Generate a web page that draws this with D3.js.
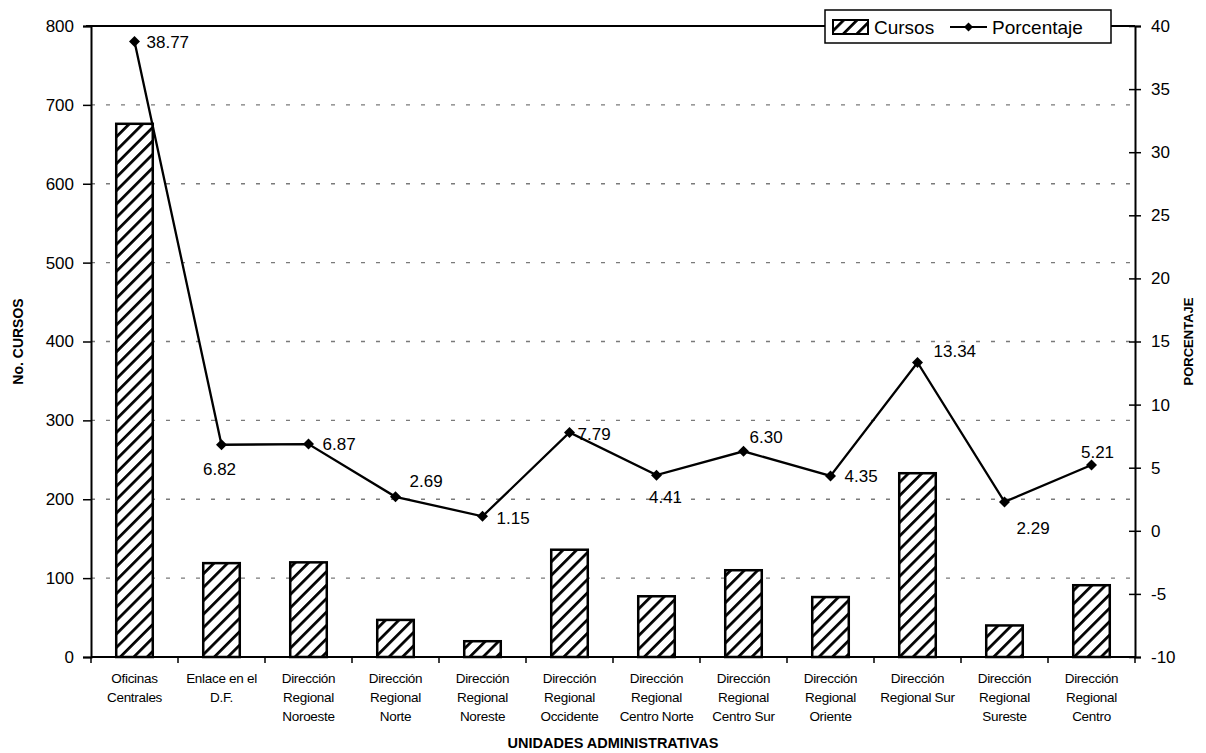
<!DOCTYPE html>
<html>
<head>
<meta charset="utf-8">
<script src="https://cdn.jsdelivr.net/npm/d3@7"></script>
<style>
  body { margin: 0; background: #fff; }
  svg { font-family: "Liberation Sans", Arial, sans-serif; }
</style>
</head>
<body>
<div id="wrapper"></div>
<script>
// data
const unidades = [
  ["Oficinas", "Centrales"],
  ["Enlace en el", "D.F."],
  ["Dirección", "Regional", "Noroeste"],
  ["Dirección", "Regional", "Norte"],
  ["Dirección", "Regional", "Noreste"],
  ["Dirección", "Regional", "Occidente"],
  ["Dirección", "Regional", "Centro Norte"],
  ["Dirección", "Regional", "Centro Sur"],
  ["Dirección", "Regional", "Oriente"],
  ["Dirección", "Regional Sur"],
  ["Dirección", "Regional", "Sureste"],
  ["Dirección", "Regional", "Centro"]
];
const cursos = [676, 119, 120, 47, 20, 136, 77, 110, 76, 233, 40, 91];
const porcentaje = [38.77, 6.82, 6.87, 2.69, 1.15, 7.79, 4.41, 6.30, 4.35, 13.34, 2.29, 5.21];
// label offsets relative to the point [dx, dy, anchor]
const labelPos = [
  [12, 1, "start"], [-2, 24, "middle"], [14, 0, "start"], [14, -16, "start"],
  [14, 2, "start"], [8, 2, "start"], [9, 22, "middle"], [6, -14, "start"],
  [14, 0, "start"], [16, -11, "start"], [12, 26, "start"], [6, -13, "middle"]
];
const leftTicks = [0, 100, 200, 300, 400, 500, 600, 700, 800];
const rightTicks = [-10, -5, 0, 5, 10, 15, 20, 25, 30, 35, 40];

const dimensions = {
  width: 1206,
  height: 753,
  marginTop: 26,
  marginRight: 71,
  marginBottom: 96,
  marginLeft: 91
};
dimensions.boundedWidth = dimensions.width - dimensions.marginLeft - dimensions.marginRight;
dimensions.boundedHeight = dimensions.height - dimensions.marginTop - dimensions.marginBottom;

const wrapper = d3.select("#wrapper")
  .append("svg")
    .attr("width", dimensions.width)
    .attr("height", dimensions.height);

// diagonal hatch for the bars
const defs = wrapper.append("defs");
const pattern = defs.append("pattern")
    .attr("id", "hatch")
    .attr("patternUnits", "userSpaceOnUse")
    .attr("width", 9.5)
    .attr("height", 9.5)
    .attr("patternTransform", "rotate(45)");
pattern.append("rect").attr("width", 9.5).attr("height", 9.5).attr("fill", "#fff");
pattern.append("line")
    .attr("x1", 0).attr("y1", 0).attr("x2", 0).attr("y2", 9.5)
    .attr("stroke", "#000").attr("stroke-width", 5.5);

const bounds = wrapper.append("g")
    .attr("transform", `translate(${dimensions.marginLeft},${dimensions.marginTop})`);

const xScale = d3.scaleBand()
  .domain(d3.range(unidades.length))
  .range([0, dimensions.boundedWidth])
  .paddingInner(0.58)
  .paddingOuter(0.29);

const yScale = d3.scaleLinear()
  .domain([0, 800])
  .range([dimensions.boundedHeight, 0]);

const y2Scale = d3.scaleLinear()
  .domain([-10, 40])
  .range([dimensions.boundedHeight, 0]);

// gridlines
bounds.append("g")
  .selectAll("line")
  .data(leftTicks.filter(d => d > 0 && d < 800))
  .join("line")
    .attr("x1", 0)
    .attr("x2", dimensions.boundedWidth)
    .attr("y1", d => yScale(d))
    .attr("y2", d => yScale(d))
    .attr("stroke", "#7a7a7a")
    .attr("stroke-width", 1.4)
    .attr("stroke-dasharray", "4,11");

// bars
bounds.append("g")
  .selectAll("rect")
  .data(cursos)
  .join("rect")
    .attr("x", (d, i) => xScale(i))
    .attr("y", d => yScale(d))
    .attr("width", xScale.bandwidth())
    .attr("height", d => dimensions.boundedHeight - yScale(d))
    .attr("fill", "url(#hatch)")
    .attr("stroke", "#000")
    .attr("stroke-width", 2.5);

// axes
const xAxis = bounds.append("g")
  .attr("transform", `translate(0,${dimensions.boundedHeight})`);
xAxis.append("line")
  .attr("x1", 0).attr("x2", dimensions.boundedWidth)
  .attr("stroke", "#000").attr("stroke-width", 2);
xAxis.selectAll(".tick")
  .data(d3.range(unidades.length + 1))
  .join("line")
    .attr("x1", d => d * xScale.step())
    .attr("x2", d => d * xScale.step())
    .attr("y1", 0).attr("y2", 6)
    .attr("stroke", "#000").attr("stroke-width", 1.5);

const catLabels = xAxis.selectAll(".cat")
  .data(unidades)
  .join("text")
    .attr("class", "cat")
    .attr("text-anchor", "middle")
    .style("font-size", "13.5px")
    .style("letter-spacing", "-0.3px")
    .attr("transform", (d, i) => `translate(${xScale(i) + xScale.bandwidth() / 2},0)`);
catLabels.selectAll("tspan")
  .data(d => d)
  .join("tspan")
    .attr("x", 0)
    .attr("y", (d, i) => 26 + i * 19)
    .text(d => d);

const yAxisGenerator = d3.axisLeft(yScale).tickValues(leftTicks).tickSize(8).tickPadding(9);
const yAxis = bounds.append("g").call(yAxisGenerator);
yAxis.select(".domain").attr("stroke-width", 2);
yAxis.selectAll(".tick line").attr("stroke-width", 1.5);
yAxis.selectAll("text").style("font-size", "17px");

const y2AxisGenerator = d3.axisRight(y2Scale)
  .tickValues(rightTicks)
  .tickFormat(d => String(d))
  .tickSize(6)
  .tickPadding(10);
const y2Axis = bounds.append("g")
  .attr("transform", `translate(${dimensions.boundedWidth},0)`)
  .call(y2AxisGenerator);
y2Axis.select(".domain").attr("stroke-width", 2);
y2Axis.selectAll(".tick line").attr("x1", -6).attr("stroke-width", 1.5);
y2Axis.selectAll("text").style("font-size", "17px");

// top border
bounds.append("line")
  .attr("x1", -5).attr("x2", dimensions.boundedWidth)
  .attr("y1", 0).attr("y2", 0)
  .attr("stroke", "#000").attr("stroke-width", 2);

// percentage line
const cx = (d, i) => xScale(i) + xScale.bandwidth() / 2;
const lineGenerator = d3.line()
  .x(cx)
  .y(d => y2Scale(d));
bounds.append("path")
  .attr("d", lineGenerator(porcentaje))
  .attr("fill", "none")
  .attr("stroke", "#000")
  .attr("stroke-width", 2.3);

const marker = "M0,-5.5L5.5,0L0,5.5L-5.5,0Z";
bounds.append("g")
  .selectAll("path")
  .data(porcentaje)
  .join("path")
    .attr("d", marker)
    .attr("transform", (d, i) => `translate(${cx(d, i)},${y2Scale(d)})`)
    .attr("fill", "#000");

bounds.append("g")
  .selectAll("text")
  .data(porcentaje)
  .join("text")
    .attr("x", (d, i) => cx(d, i) + labelPos[i][0])
    .attr("y", (d, i) => y2Scale(d) + labelPos[i][1])
    .attr("dy", "0.35em")
    .attr("text-anchor", (d, i) => labelPos[i][2])
    .style("font-size", "17px")
    .text(d => d.toFixed(2));

// axis titles
wrapper.append("text")
  .attr("transform", `translate(23,${dimensions.marginTop + dimensions.boundedHeight / 2}) rotate(-90)`)
  .attr("text-anchor", "middle")
  .style("font-size", "14px")
  .style("font-weight", "bold")
  .text("No. CURSOS");

wrapper.append("text")
  .attr("transform", `translate(1193,${dimensions.marginTop + dimensions.boundedHeight / 2}) rotate(-90)`)
  .attr("text-anchor", "middle")
  .style("font-size", "13px")
  .style("font-weight", "bold")
  .text("PORCENTAJE");

wrapper.append("text")
  .attr("x", 613)
  .attr("y", 748)
  .attr("text-anchor", "middle")
  .style("font-size", "14.5px")
  .style("font-weight", "bold")
  .text("UNIDADES ADMINISTRATIVAS");

// legend
const legend = wrapper.append("g").attr("transform", "translate(825,10)");
legend.append("rect")
  .attr("width", 286).attr("height", 33)
  .attr("fill", "#fff").attr("stroke", "#000").attr("stroke-width", 1.5);
legend.append("rect")
  .attr("x", 8).attr("y", 10).attr("width", 35).attr("height", 14)
  .attr("fill", "url(#hatch)").attr("stroke", "#000").attr("stroke-width", 2);
legend.append("text")
  .attr("x", 49).attr("y", 17).attr("dy", "0.35em")
  .style("font-size", "19px")
  .text("Cursos");
legend.append("line")
  .attr("x1", 125).attr("x2", 162).attr("y1", 17).attr("y2", 17)
  .attr("stroke", "#000").attr("stroke-width", 2);
legend.append("path")
  .attr("d", "M0,-4.5L4.5,0L0,4.5L-4.5,0Z")
  .attr("transform", "translate(143.5,17)")
  .attr("fill", "#000");
legend.append("text")
  .attr("x", 167).attr("y", 17).attr("dy", "0.35em")
  .style("font-size", "19px")
  .text("Porcentaje");
</script>
</body>
</html>
